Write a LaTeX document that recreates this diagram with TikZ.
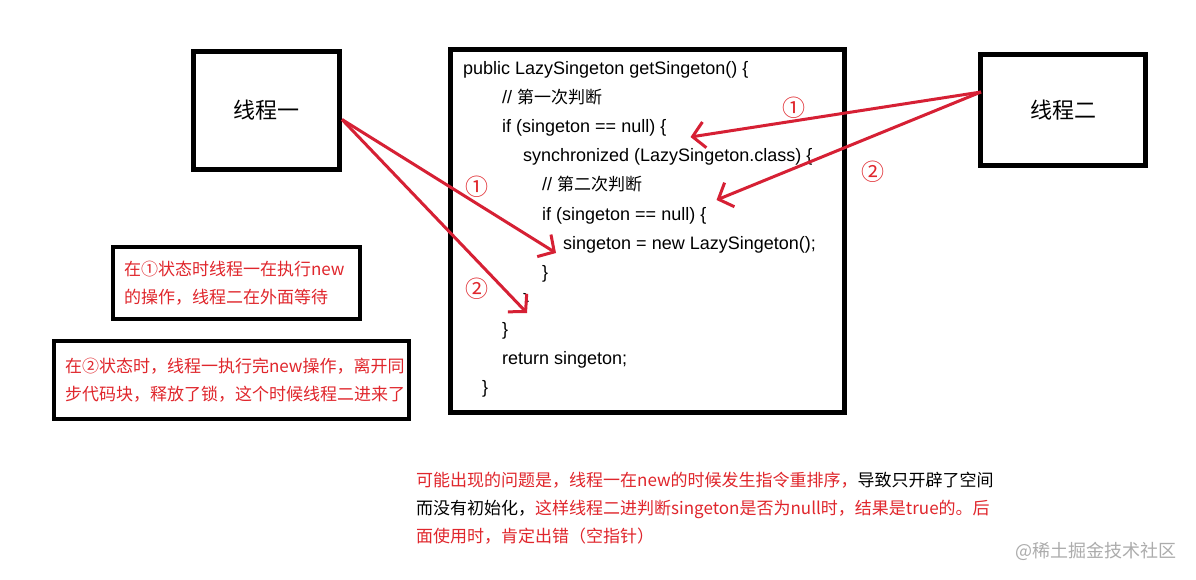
\documentclass[tikz,border=0pt]{standalone}
\usepackage{fontspec}
\setmainfont{Noto Sans CJK SC}
\newfontfamily\latinfont{Liberation Sans}
\newfontfamily\cjkfont{Noto Sans CJK SC}
\usetikzlibrary{arrows.meta,positioning}
\definecolor{notered}{RGB}{224,38,44}
\definecolor{arrred}{RGB}{214,32,52}
\definecolor{markgray}{RGB}{172,172,172}

\begin{document}
\begin{tikzpicture}[x=1pt,y=-1pt,
  box/.style={draw,line width=5pt,inner sep=0pt},
  note/.style={draw,line width=4pt,align=left,text=notered,font=\fontsize{17}{28.5}\selectfont,inner xsep=11pt,inner ysep=0pt},
  code/.style={anchor=base west,inner sep=0pt,font=\latinfont\fontsize{18}{20}\selectfont},
  txt/.style={anchor=base west,inner sep=0pt,font=\fontsize{17}{20}\selectfont},
  num/.style={text=notered,font=\fontsize{23}{24}\selectfont,inner sep=0pt},
  arr/.style={-{Straight Barb[length=12pt,width=26pt]},line width=3pt,draw=arrred}
]
\useasboundingbox[fill=white] (0,0) rectangle (1196,580);
% threads and code block
\node[box,minimum width=146,minimum height=118,font=\fontsize{22}{24}\selectfont] (t1) at (266.5,110.5) {线程一};
\node[box,minimum width=165,minimum height=111,font=\fontsize{22}{24}\selectfont] (t2) at (1063,110) {线程二};
\node[box,minimum width=394,minimum height=363] (blk) at (647.5,231) {};
\node[code] (l1) at (463,75) {public LazySingeton getSingeton() \{};
\node[code] (l2) at (502,104) {// {\cjkfont\fontsize{17}{20}\selectfont 第一次判断}};
\node[code] (l3) at (502,133) {if (singeton == null) \{};
\node[code] (l4) at (523,162) {synchronized (LazySingeton.class) \{};
\node[code] (l5) at (542,191) {// {\cjkfont\fontsize{17}{20}\selectfont 第二次判断}};
\node[code] (l6) at (542,220) {if (singeton == null) \{};
\node[code] (l7) at (563,249) {singeton = new LazySingeton();};
\node[code] (l8) at (542,278) {\}};
\node[code] (l9) at (523,306) {\}};
\node[code] (l10) at (502,335) {\}};
\node[code] (l11) at (502,364) {return singeton;};
\node[code] (l12) at (482,393) {\}};
% notes
\node[note,minimum width=247,minimum height=72,text width=225] (n1) at (236.5,283) {在①状态时线程一在执行new\\的操作，线程二在外面等待};
\node[note,minimum width=355,minimum height=78,text width=333] (n2) at (231.5,380) {在②状态时，线程一执行完new操作，离开同\\步代码块，释放了锁，这个时候线程二进来了};
\node[txt] (q1) at (416,486) {\textcolor{notered}{可能出现的问题是，线程一在new的时候发生指令重排序，}导致只开辟了空间};
\node[txt] (q2) at (416,514) {而没有初始化，\textcolor{notered}{这样线程二进判断singeton是否为null时，结果是true的。后}};
\node[txt,text=notered] (q3) at (416,542) {面使用时，肯定出错（空指针）};
\node[txt,text=markgray,font=\fontsize{18}{20}\selectfont] (wm) at (1015,557) {@稀土掘金技术社区};
% step marks
\node[num] (c1) at (794,108) {①};
\node[num] (c2) at (873,172) {②};
\node[num] (c3) at (477,187) {①};
\node[num] (c4) at (477,289) {②};
% arrows
\draw[arr] ([yshift=-9pt]t1.east) -- ([xshift=-7pt,yshift=-4pt]l7.base west);
\draw[arr] ([yshift=-9pt]t1.east) -- ([xshift=4pt,yshift=-7pt]l9.base west);
\draw[arr] ([xshift=3pt,yshift=18pt]t2.west) -- ([xshift=24pt,yshift=-4pt]l3.base east);
\draw[arr] ([xshift=3pt,yshift=18pt]t2.west) -- ([xshift=10pt,yshift=20pt]l6.base east);
\end{tikzpicture}
\end{document}
